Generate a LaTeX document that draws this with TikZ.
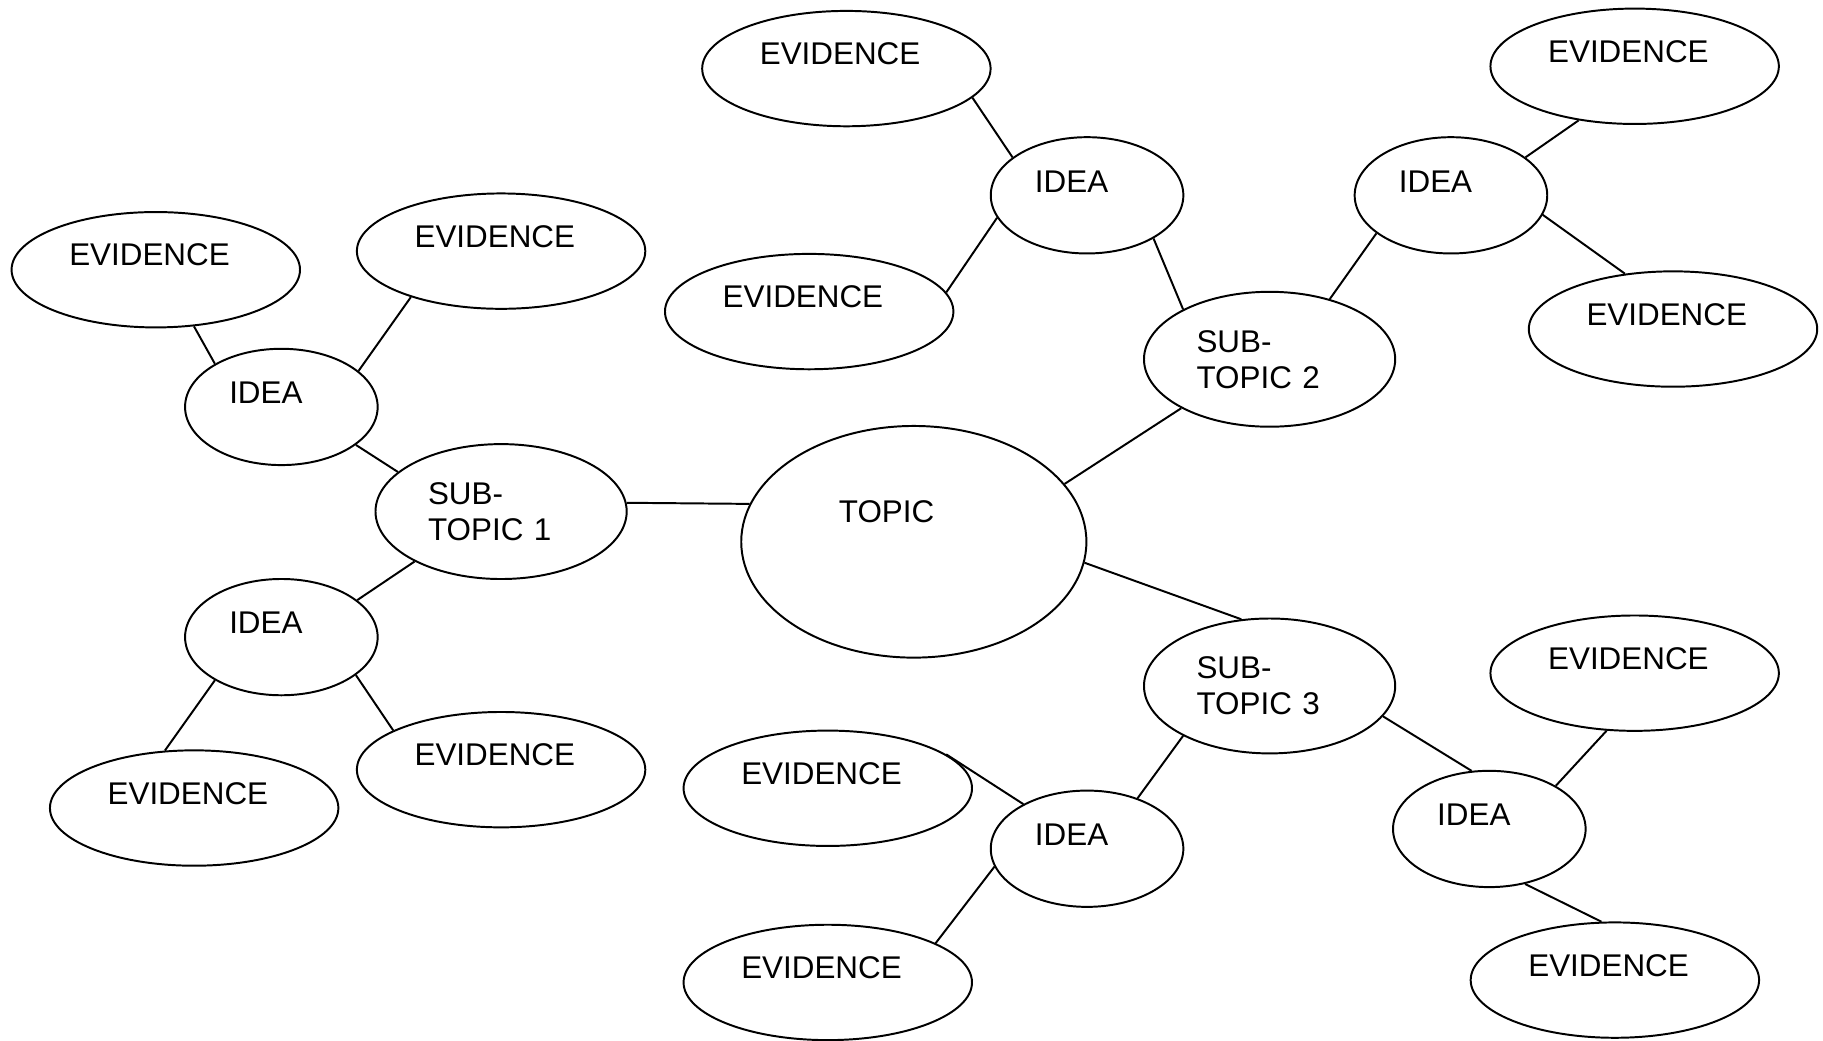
\documentclass[tikz,border=0pt]{standalone}
\usepackage{fontspec}
\setmainfont{Liberation Sans}
\usetikzlibrary{shapes.geometric}
\tikzset{
    bubble/.style={
        draw,
        ellipse,
        inner sep=0pt,
        align=left,
        font=\fontsize{9.6}{11}\selectfont
    },
    evidencebubble/.style={
        bubble,
        minimum width=3.10cm,
        minimum height=1.24cm,
        text width=1.86cm,
        text depth=0.32cm
    },
    ideabubble/.style={
        bubble,
        minimum width=2.07cm,
        minimum height=1.25cm,
        text width=1.12cm,
        text depth=0.30cm
    },
    subbubble/.style={
        bubble,
        minimum width=2.70cm,
        minimum height=1.45cm,
        text width=1.57cm
    },
    mainbubble/.style={
        bubble,
        minimum width=3.71cm,
        minimum height=2.49cm,
        text width=1.61cm,
        text depth=0.65cm
    }
}
\begin{document}
\begin{tikzpicture}[x=0.0125cm, y=-0.0125cm, line width=0.6pt]
    \useasboundingbox (0,0) rectangle (1568,895);

    % centre
    \node[mainbubble] (T) at (786,466) {TOPIC};

    % sub-topics
    \node[subbubble] (S1) at (431,440) {SUB-\\TOPIC 1};
    \node[subbubble] (S2) at (1092,309) {SUB-\\TOPIC 2};
    \node[subbubble] (S3) at (1092,590) {SUB-\\TOPIC 3};

    % ideas
    \node[ideabubble] (I11) at (242,350) {IDEA};
    \node[ideabubble] (I12) at (242,548) {IDEA};
    \node[ideabubble] (I21) at (935,168) {IDEA};
    \node[ideabubble] (I22) at (1248,168) {IDEA};
    \node[ideabubble] (I31) at (935,730) {IDEA};
    \node[ideabubble] (I32) at (1281,713) {IDEA};

    % evidence
    \node[evidencebubble] (E111) at (134,232) {EVIDENCE};
    \node[evidencebubble] (E112) at (431,216) {EVIDENCE};
    \node[evidencebubble] (E121) at (167,695) {EVIDENCE};
    \node[evidencebubble] (E122) at (431,662) {EVIDENCE};
    \node[evidencebubble] (E211) at (728,59) {EVIDENCE};
    \node[evidencebubble] (E212) at (696,268) {EVIDENCE};
    \node[evidencebubble] (E221) at (1406,57) {EVIDENCE};
    \node[evidencebubble] (E222) at (1439,283) {EVIDENCE};
    \node[evidencebubble] (E311) at (712,678) {EVIDENCE};
    \node[evidencebubble] (E312) at (712,845) {EVIDENCE};
    \node[evidencebubble] (E321) at (1406,579) {EVIDENCE};
    \node[evidencebubble] (E322) at (1389,843) {EVIDENCE};

    % links
    \foreach \s/\t in {S1.4/T.167, T.21/S2.209, T.353/S3.113,
                       I11.333/S1.159, S1.210/I12.26,
                       I21.327/S2.150, S2.45/I22.207,
                       S3.210/I31.45, S3.345/I32.107,
                       E111.304/I11.147, E112.207/I11.25,
                       I12.213/E121.117, I12.333/E122.160,
                       E211.347/I21.153, I21.194/E212.8,
                       I22.27/E221.224, I22.348/E222.131,
                       E311.16/I31.145, I31.191/E312.20,
                       I32.33/E321.244, I32.303/E322.103}
      \draw (\s) -- (\t);
\end{tikzpicture}
\end{document}
